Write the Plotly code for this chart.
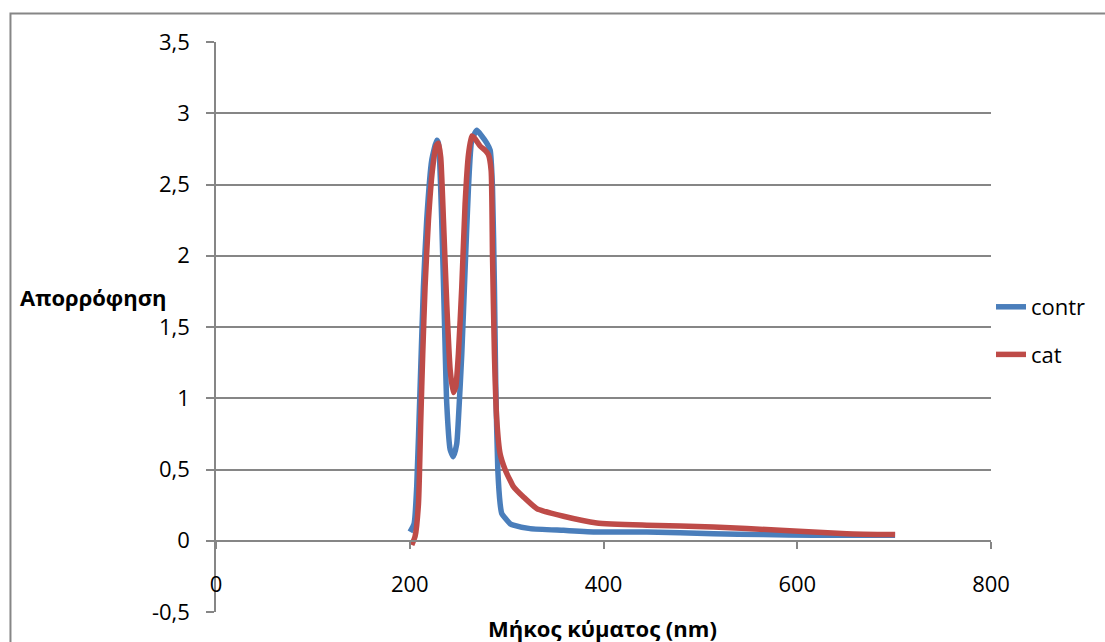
import plotly.graph_objects as go

# --- data ---
contr_nm = [200.3, 204.5, 207.2, 210.7, 214.1, 217.5, 222.7, 227.9, 229.6, 233.0, 235.8, 238.2,
            241.7, 245.0, 248.5, 250.2, 253.7, 257.1, 260.6, 264.0, 269.2, 274.3, 279.5, 283.0,
            285.4, 287.4, 288.8, 290.9, 293.3, 295.0, 298.4, 303.6, 307.0, 324.3, 358.7, 393.1,
            444.7, 513.5, 565.0, 616.7, 701.0]
contr_abs = [0.063, 0.12, 0.38, 1.08, 1.78, 2.25, 2.67, 2.81, 2.79, 2.25, 1.55, 0.96,
             0.64, 0.59, 0.68, 0.85, 1.31, 1.90, 2.48, 2.81, 2.88, 2.84, 2.79, 2.74,
             2.48, 1.78, 1.08, 0.50, 0.26, 0.19, 0.16, 0.12, 0.11, 0.085, 0.073, 0.062,
             0.062, 0.050, 0.043, 0.038, 0.038]

cat_nm = [202.1, 205.5, 209.0, 211.4, 213.4, 215.8, 219.3, 223.4, 227.2, 229.6, 232.0, 234.8,
          238.2, 241.7, 245.0, 247.5, 250.2, 253.7, 257.1, 260.6, 264.0, 267.5, 272.6, 277.8,
          281.2, 284.0, 285.4, 287.4, 289.8, 293.3, 298.4, 303.6, 307.0, 317.4, 331.1, 358.7,
          393.1, 444.7, 513.5, 582.3, 651.1, 701.0]
cat_abs = [-0.03, 0.03, 0.26, 0.85, 1.31, 1.78, 2.25, 2.60, 2.77, 2.79, 2.69, 2.25,
           1.66, 1.20, 1.04, 1.08, 1.31, 1.78, 2.36, 2.71, 2.84, 2.82, 2.77, 2.74,
           2.71, 2.60, 2.01, 1.31, 0.85, 0.61, 0.50, 0.424, 0.38, 0.307, 0.226, 0.172,
           0.125, 0.109, 0.097, 0.074, 0.050, 0.043]

x_ticks = [0, 200, 400, 600, 800]
y_ticks = [-0.5, 0, 0.5, 1, 1.5, 2, 2.5, 3, 3.5]
y_tick_text = ["-0,5", "0", "0,5", "1", "1,5", "2", "2,5", "3", "3,5"]

BLUE = "#4A7EBB"
RED = "#BE4B48"
GRID = "#868686"
FONT = "Open Sans"

fig = go.Figure()
fig.add_trace(go.Scatter(x=contr_nm, y=contr_abs, mode="lines", name="contr",
                         legendgroup="a",
                         line=dict(color=BLUE, width=5.5, shape="spline", smoothing=0.5)))
fig.add_trace(go.Scatter(x=cat_nm, y=cat_abs, mode="lines", name="cat",
                         legendgroup="b",
                         line=dict(color=RED, width=5.5, shape="spline", smoothing=0.5)))

fig.update_layout(
    width=1105, height=642,
    margin=dict(l=216, r=114, t=42, b=30),
    paper_bgcolor="white", plot_bgcolor="white",
    font=dict(family=FONT, size=22, color="black"),
    showlegend=True,
    legend=dict(x=1.0, y=0.493, xanchor="left", yanchor="middle",
                font=dict(family=FONT, size=22, color="black"),
                tracegroupgap=16, bgcolor="rgba(0,0,0,0)"),
    xaxis=dict(range=[0, 800], tickmode="array", tickvals=x_ticks,
               showgrid=False, zeroline=False,
               showline=True, linecolor=GRID, linewidth=1.5,
               ticks="outside", ticklen=7, tickcolor=GRID, tickwidth=1.5,
               anchor="free", position=0.125, ticklabelstandoff=17,
               tickfont=dict(family=FONT, size=22, color="black")),
    yaxis=dict(range=[-0.5, 3.5], tickmode="array", tickvals=y_ticks, ticktext=y_tick_text,
               showgrid=True, gridcolor=GRID, gridwidth=1.5, zeroline=False,
               showline=True, linecolor=GRID, linewidth=1.5,
               ticks="outside", ticklen=8, tickcolor=GRID, tickwidth=1.5,
               ticklabelstandoff=12,
               tickfont=dict(family=FONT, size=22, color="black")),
)

# outer chart border (extends past the right and bottom edges, as in the reference)
fig.add_shape(type="rect", xref="paper", yref="paper",
              x0=-0.2652, x1=1.16, y0=-0.08, y1=1.05,
              line=dict(color=GRID, width=2), fillcolor="rgba(0,0,0,0)", layer="below")

fig.add_annotation(text="<b>Απορρόφηση</b>", xref="paper", yref="paper",
                   x=-0.2555, y=0.5526, xanchor="left", yanchor="middle", showarrow=False,
                   font=dict(family=FONT, size=22, color="black"))
fig.add_annotation(text="<b>Μήκος κύματος (nm)</b>", xref="paper", yref="paper",
                   x=0.499, y=-0.028, xanchor="center", yanchor="middle", showarrow=False,
                   font=dict(family=FONT, size=22, color="black"))

fig.write_html("out.html")
